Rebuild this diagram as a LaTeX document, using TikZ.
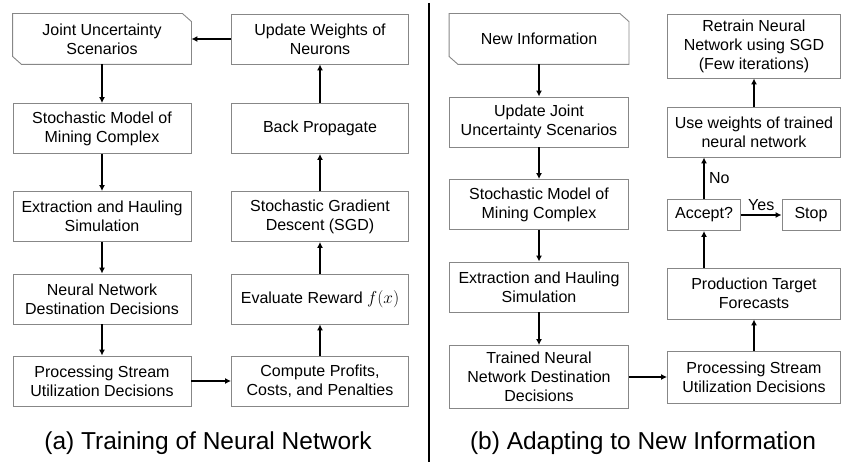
\documentclass[tikz,border=0pt]{standalone}
\usepackage{fontspec}
\setmainfont{Liberation Sans}
\usetikzlibrary{arrows.meta,calc}
\newlength{\du}
\setlength{\du}{1pt}
\definecolor{dialinecolor}{rgb}{0.000000, 0.000000, 0.000000}
\definecolor{boxlinecolor}{rgb}{0.530000, 0.530000, 0.530000}
\definecolor{diafillcolor}{rgb}{1.000000, 1.000000, 1.000000}
\tikzset{
  blk/.style={draw=boxlinecolor, line width=0.9\du, fill=diafillcolor, align=center,
    inner sep=0pt, minimum width=178\du, minimum height=50\du,
    font=\fontsize{16}{19}\selectfont},
  card/.style={blk, draw=none, fill=none},
  cardline/.style={draw=boxlinecolor, line width=0.9\du},
  flow/.style={draw=dialinecolor, line width=2\du, -{Latex[length=6pt,width=6pt]}},
  lbl/.style={font=\fontsize{16}{19}\selectfont, inner sep=1\du},
  capt/.style={font=\fontsize{24.5}{28}\selectfont, inner sep=0pt}
}
% outline with two cut corners round a node
\newcommand{\cutcorners}[1]{%
\draw[cardline] (#1.north west) -- ($(#1.north east)+(-9\du,0)$) -- ($(#1.north east)+(0,8\du)$)
  -- (#1.south east) -- ($(#1.south west)+(9\du,0)$) -- ($(#1.south west)+(0,-8\du)$) -- cycle;}

\begin{document}
\begin{tikzpicture}
\pgftransformxscale{1.000000}
\pgftransformyscale{-1.000000}
\useasboundingbox (0\du,0\du) rectangle (841\du,462\du);
% training loop
\node[card] (jus) at (102\du,39\du) {Joint Uncertainty\\Scenarios};
\cutcorners{jus}
\node[blk] (smc) at (102\du,128.5\du) {Stochastic Model of\\Mining Complex};
\node[blk] (ehs) at (102\du,216.5\du) {Extraction and Hauling\\Simulation};
\node[blk] (nnd) at (102\du,299\du) {Neural Network\\Destination Decisions};
\node[blk] (psu) at (102\du,381\du) {Processing Stream\\Utilization Decisions};
\node[blk, minimum width=177\du] (uwn) at (320\du,39\du) {Update Weights of\\Neurons};
\node[blk, minimum width=177\du] (bpr) at (320\du,128.5\du) {Back Propagate};
\node[blk, minimum width=177\du] (sgd) at (320\du,216.5\du) {Stochastic Gradient\\Descent (SGD)};
\node[blk, minimum width=177\du] (evr) at (320\du,299\du) {Evaluate Reward $f(x)$};
\node[blk, minimum width=177\du] (cpc) at (320\du,381\du) {Compute Profits,\\Costs, and Penalties};
\draw[flow] (jus) -- (smc);
\draw[flow] (smc) -- (ehs);
\draw[flow] (ehs) -- (nnd);
\draw[flow] (nnd) -- (psu);
\draw[flow] (psu) -- (cpc);
\draw[flow] (cpc) -- (evr);
\draw[flow] (evr) -- (sgd);
\draw[flow] (sgd) -- (bpr);
\draw[flow] (bpr) -- (uwn);
\draw[flow] (uwn) -- (jus);
\node[capt] (capa) at (208\du,443\du) {(a) Training of Neural Network};
% separator
\coordinate (divtop) at (429\du,3\du);
\coordinate (divbot) at (429\du,462\du);
\draw[draw=dialinecolor, line width=1.8\du] (divtop) -- (divbot);
% adapting
\node[card, minimum width=179\du] (nin) at (539\du,39\du) {New Information};
\cutcorners{nin}
\node[blk, minimum width=179\du] (ujs) at (539\du,122\du) {Update Joint\\Uncertainty Scenarios};
\node[blk, minimum width=179\du] (smcb) at (539\du,204.5\du) {Stochastic Model of\\Mining Complex};
\node[blk, minimum width=179\du] (ehsb) at (539\du,287\du) {Extraction and Hauling\\Simulation};
\node[blk, minimum width=179\du, minimum height=63\du] (tnd) at (539\du,377\du) {Trained Neural\\Network Destination\\Decisions};
\node[blk, minimum width=173\du, minimum height=64\du] (rtn) at (754\du,46\du) {Retrain Neural\\Network using SGD\\(Few iterations)};
\node[blk, minimum width=173\du] (uwt) at (754\du,132\du) {Use weights of trained\\neural network};
\node[blk, minimum width=73\du, minimum height=31\du] (acc) at (704\du,215\du) {Accept?};
\node[blk, minimum width=58\du, minimum height=31\du] (stp) at (811\du,215\du) {Stop};
\node[blk, minimum width=173\du, minimum height=51\du] (ptf) at (754\du,293.5\du) {Production Target\\Forecasts};
\node[blk, minimum width=173\du, minimum height=52\du] (psub) at (754\du,377\du) {Processing Stream\\Utilization Decisions};
\draw[flow] (nin) -- (ujs);
\draw[flow] (ujs) -- (smcb);
\draw[flow] (smcb) -- (ehsb);
\draw[flow] (ehsb) -- (tnd);
\draw[flow] (tnd) -- (psub);
\draw[flow] (psub) -- (ptf);
\draw[flow] (ptf.north -| acc) -- (acc);
\draw[flow] (acc) -- (acc.north |- uwt.south) node[lbl, midway, anchor=west, xshift=3\du] {No};
\draw[flow] (acc) -- (stp) node[lbl, midway, anchor=south, yshift=2\du] {Yes};
\draw[flow] (uwt) -- (rtn);
\node[capt] (capb) at (643\du,443\du) {(b) Adapting to New Information};
\end{tikzpicture}
\end{document}
